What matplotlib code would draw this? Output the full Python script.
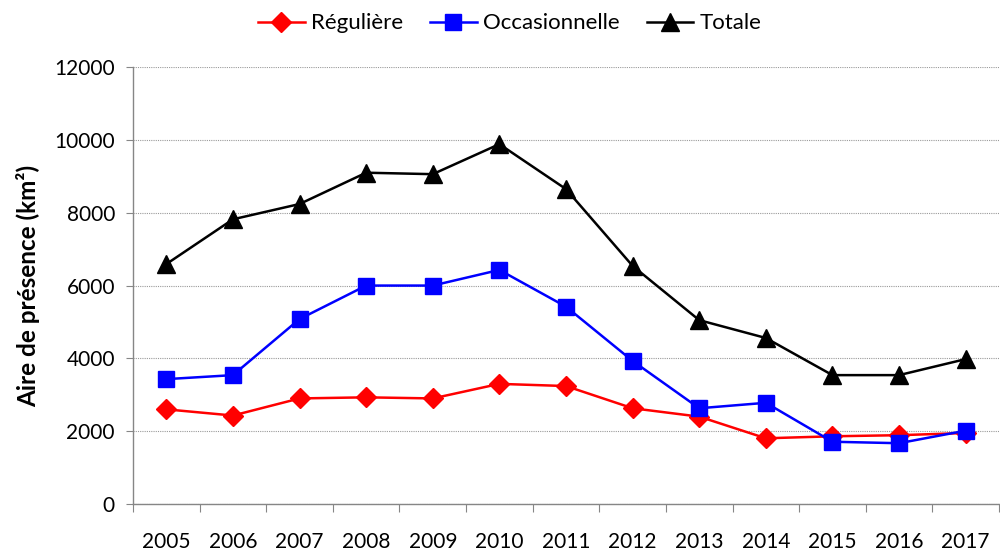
import numpy as np
import matplotlib
matplotlib.use("Agg")
import matplotlib.pyplot as plt
from matplotlib.ticker import FixedLocator, NullFormatter

plt.rcParams['font.family'] = ['Lato', 'DejaVu Sans']

years = ['2005', '2006', '2007', '2008', '2009', '2010', '2011',
         '2012', '2013', '2014', '2015', '2016', '2017']
reguliere = [2600, 2430, 2900, 2930, 2900, 3300, 3240,
             2630, 2400, 1805, 1860, 1890, 1950]
occasionnelle = [3430, 3540, 5080, 6000, 6000, 6430, 5420,
                 3930, 2630, 2780, 1710, 1670, 2015]
totale = [6590, 7820, 8240, 9100, 9060, 9885, 8650,
          6540, 5050, 4560, 3540, 3540, 3980]

fig = plt.figure(figsize=(10, 5.53), dpi=100)
ax = fig.add_axes([0.133, 0.0886, 0.866, 0.790])

x = np.arange(len(years))
ax.plot(x, reguliere, color='#ff0000', lw=1.8, marker='D', ms=10,
        label='Régulière', zorder=3)
ax.plot(x, occasionnelle, color='#0000ff', lw=1.8, marker='s', ms=12,
        label='Occasionnelle', zorder=3)
ax.plot(x, totale, color='black', lw=1.8, marker='^', ms=13,
        label='Totale', zorder=3)

ax.set_xlim(-0.5, len(years) - 0.5)
ax.set_ylim(0, 12000)
ax.set_yticks(np.arange(0, 12001, 2000))
ax.yaxis.grid(True, color='#9a9a9a', linestyle=(0, (1, 1)), lw=0.8)
ax.set_axisbelow(True)

# category boundaries as major ticks, labels at centers
ax.xaxis.set_major_locator(FixedLocator(np.arange(-0.5, len(years), 1.0)))
ax.xaxis.set_major_formatter(NullFormatter())
ax.xaxis.set_minor_locator(FixedLocator(x))
ax.set_xticklabels(years, minor=True)
ax.tick_params(axis='x', which='major', length=6, color='#868686', direction='out')
ax.tick_params(axis='x', which='minor', length=0, pad=20, labelsize=15)
ax.tick_params(axis='y', length=5, color='#868686', pad=8, labelsize=15)

for s in ['top', 'right']:
    ax.spines[s].set_visible(False)
for s in ['left', 'bottom']:
    ax.spines[s].set_color('#868686')
    ax.spines[s].set_linewidth(1.0)

ax.set_ylabel('Aire de présence (km²)', fontsize=17.5, fontweight='bold', labelpad=10)

fig.legend(loc='upper center', bbox_to_anchor=(0.51, 1.0), ncol=3, frameon=False,
           fontsize=16, handlelength=2.1, handletextpad=0.3, columnspacing=1.2,
           borderaxespad=0.2)

fig.savefig('out.png', dpi=100)
